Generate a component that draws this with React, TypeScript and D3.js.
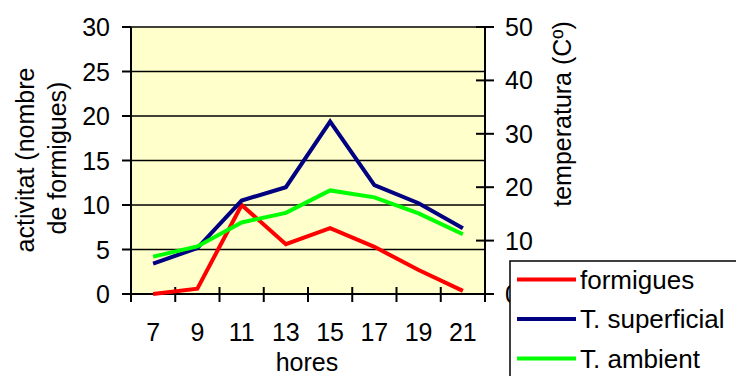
import React from "react";
import * as d3 from "d3";

// Hours of observation
const hours = ["7", "9", "11", "13", "15", "17", "19", "21"];
// Ant activity (number of ants), left axis
const formigues = [0, 0.6, 10.0, 5.6, 7.4, 5.3, 2.7, 0.35];
// Surface temperature (°C), right axis
const tSuperficial = [5.7, 8.6, 17.5, 20.0, 32.3, 20.4, 17.0, 12.3];
// Air temperature (°C), right axis
const tAmbient = [7.0, 8.9, 13.4, 15.2, 19.4, 18.1, 15.1, 11.2];

const leftTicks = [0, 5, 10, 15, 20, 25, 30];
const rightTicks = [0, 10, 20, 30, 40, 50];

const W = 736;
const H = 376;
const plot = { left: 131, right: 485, top: 27, bottom: 294 };
const FONT = "'Liberation Sans', Arial, sans-serif";
const FS = 25;
const FS_LEGEND = 26;

export default function App() {
  const x = d3
    .scaleBand<string>()
    .domain(hours)
    .range([plot.left, plot.right])
    .padding(0);
  const yL = d3.scaleLinear().domain([0, 30]).range([plot.bottom, plot.top]);
  const yR = d3.scaleLinear().domain([0, 50]).range([plot.bottom, plot.top]);
  const cx = (h: string) => (x(h) as number) + x.bandwidth() / 2;

  const lineL = d3
    .line<number>()
    .x((_, i) => cx(hours[i]))
    .y((d) => yL(d));
  const lineR = d3
    .line<number>()
    .x((_, i) => cx(hours[i]))
    .y((d) => yR(d));

  const series = [
    { name: "formigues", color: "#ff0000", path: lineL(formigues) },
    { name: "T. superficial", color: "#000080", path: lineR(tSuperficial) },
    { name: "T. ambient", color: "#00ff00", path: lineR(tAmbient) },
  ];

  const boundaries = [...hours.map((h) => x(h) as number), plot.right];

  return (
    <svg
      width={W}
      height={H}
      style={{ position: "absolute", left: 0, top: 0, background: "#fff" }}
      fontFamily={FONT}
    >
      {/* plot area */}
      <rect
        x={plot.left}
        y={plot.top}
        width={plot.right - plot.left}
        height={plot.bottom - plot.top}
        fill="#ffffcc"
      />
      {/* horizontal gridlines */}
      {leftTicks.map((t) => (
        <line
          key={"g" + t}
          x1={plot.left}
          x2={plot.right}
          y1={yL(t)}
          y2={yL(t)}
          stroke="#000"
          strokeWidth={1.5}
        />
      ))}
      {/* left axis */}
      <line x1={plot.left} x2={plot.left} y1={plot.top} y2={plot.bottom} stroke="#000" strokeWidth={2} />
      {leftTicks.map((t) => (
        <g key={"l" + t}>
          <line x1={plot.left - 9} x2={plot.left} y1={yL(t)} y2={yL(t)} stroke="#000" strokeWidth={2} />
          <text x={110} y={yL(t)} textAnchor="end" dominantBaseline="central" fontSize={FS} fill="#000">
            {t}
          </text>
        </g>
      ))}
      {/* right axis */}
      <line x1={plot.right} x2={plot.right} y1={plot.top} y2={plot.bottom} stroke="#000" strokeWidth={2} />
      {rightTicks.map((t) => (
        <g key={"r" + t}>
          <line x1={plot.right - 9} x2={plot.right + 9} y1={yR(t)} y2={yR(t)} stroke="#000" strokeWidth={2} />
          <text x={505} y={yR(t)} textAnchor="start" dominantBaseline="central" fontSize={FS} fill="#000">
            {t}
          </text>
        </g>
      ))}
      {/* bottom axis */}
      <line x1={plot.left} x2={plot.right} y1={plot.bottom} y2={plot.bottom} stroke="#000" strokeWidth={2} />
      {boundaries.map((b, i) => (
        <line key={"b" + i} x1={b} x2={b} y1={plot.bottom - 7} y2={plot.bottom + 8} stroke="#000" strokeWidth={2} />
      ))}
      {hours.map((h) => (
        <text key={"x" + h} x={cx(h)} y={341} textAnchor="middle" fontSize={FS} fill="#000">
          {h}
        </text>
      ))}
      <text x={307} y={371} textAnchor="middle" fontSize={FS} fill="#000">
        hores
      </text>

      {/* axis titles */}
      <g transform="translate(25,160) rotate(-90)">
        <text textAnchor="middle" dominantBaseline="central" fontSize={FS} fill="#000">
          activitat (nombre
        </text>
      </g>
      <g transform="translate(57,158) rotate(-90)">
        <text textAnchor="middle" dominantBaseline="central" fontSize={FS} fill="#000">
          de formigues)
        </text>
      </g>
      <g transform="translate(562,114) rotate(-90)">
        <text textAnchor="middle" dominantBaseline="central" fontSize={FS} fill="#000">
          temperatura (Cº)
        </text>
      </g>

      {/* series */}
      {series.map((s) => (
        <path
          key={s.name}
          d={s.path as string}
          fill="none"
          stroke={s.color}
          strokeWidth={4}
          strokeLinejoin="miter"
        />
      ))}

      {/* legend */}
      <rect x={510} y={261} width={240} height={130} fill="#fff" stroke="#000" strokeWidth={1.5} />
      {series.map((s, i) => {
        const ly = 279.5 + i * 39.5;
        return (
          <g key={"lg" + s.name}>
            <line x1={517} x2={576} y1={ly} y2={ly} stroke={s.color} strokeWidth={4} />
            <text x={580} y={ly} dominantBaseline="central" fontSize={FS_LEGEND} fill="#000">
              {s.name}
            </text>
          </g>
        );
      })}
    </svg>
  );
}
